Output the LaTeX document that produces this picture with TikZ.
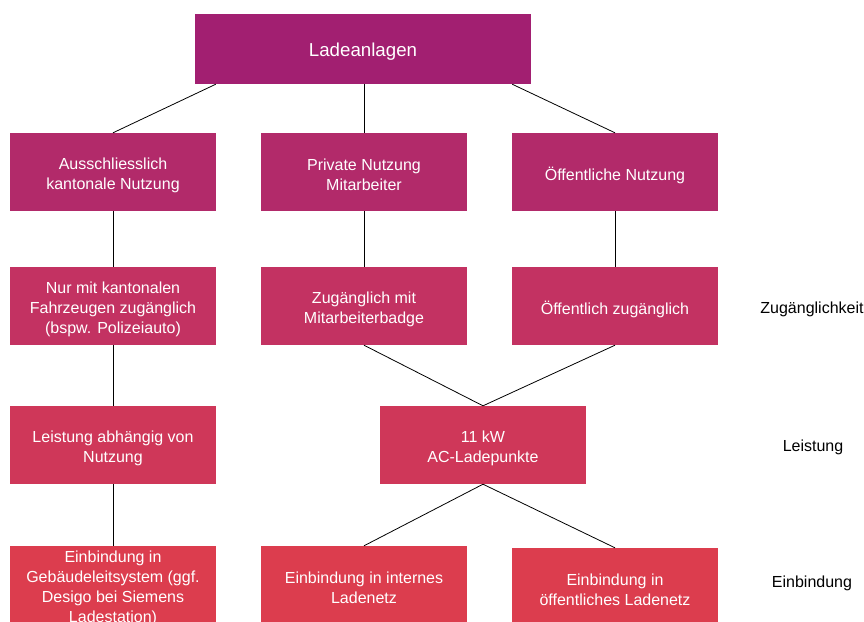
\documentclass[tikz,border=0pt]{standalone}
\usepackage{fontspec}
\setmainfont{Liberation Sans}
\definecolor{c0}{RGB}{162,31,113}
\definecolor{c1}{RGB}{178,42,106}
\definecolor{c2}{RGB}{195,50,98}
\definecolor{c3}{RGB}{207,55,89}
\definecolor{c4}{RGB}{220,61,78}
\tikzset{
  box/.style={rectangle, inner sep=0pt, minimum width=206pt, minimum height=78pt},
  boxtext/.style={inner sep=0pt, text=white, align=center, font=\fontsize{16pt}{20pt}\selectfont},
  rowlabel/.style={inner sep=0pt, text=black, font=\fontsize{16pt}{20pt}\selectfont},
  link/.style={draw=black, line width=0.8pt}
}
\begin{document}
\begin{tikzpicture}[x=1pt,y=-1pt]
\useasboundingbox (0,0) rectangle (864,621);
\clip (0,0) rectangle (864,621);
\fill[white] (0,0) rectangle (864,621);
\node[box, fill=c0, minimum width=336pt, minimum height=70pt] (T) at (363,49) {};
\node[box, fill=c1] (A1) at (113,172) {};
\node[box, fill=c1] (B1) at (364,172) {};
\node[box, fill=c1] (C1) at (615,172) {};
\node[box, fill=c2] (A2) at (113,306) {};
\node[box, fill=c2] (B2) at (364,306) {};
\node[box, fill=c2] (C2) at (615,306) {};
\node[box, fill=c3] (A3) at (113,445) {};
\node[box, fill=c3] (B3) at (483,445) {};
\node[box, fill=c4] (A4) at (113,585) {};
\node[box, fill=c4] (B4) at (364,585) {};
\node[box, fill=c4] (C4) at (615,587) {};
\node[boxtext, font=\fontsize{18.7pt}{22pt}\selectfont] (Tt) at ([yshift=-3pt]T.center) {Ladeanlagen};
\node[boxtext] (A1t) at ([yshift=-3pt]A1.center) {Ausschliesslich\\kantonale Nutzung};
\node[boxtext] (B1t) at ([yshift=-3pt]B1.center) {Private Nutzung\\Mitarbeiter};
\node[boxtext] (C1t) at ([yshift=-3pt]C1.center) {Öffentliche Nutzung};
\node[boxtext] (A2t) at ([yshift=-3pt]A2.center) {Nur mit kantonalen\\Fahrzeugen zugänglich\\(bspw. Polizeiauto)};
\node[boxtext] (B2t) at ([yshift=-3pt]B2.center) {Zugänglich mit\\Mitarbeiterbadge};
\node[boxtext] (C2t) at ([yshift=-3pt]C2.center) {Öffentlich zugänglich};
\node[boxtext] (A3t) at ([yshift=-3pt]A3.center) {Leistung abhängig von\\Nutzung};
\node[boxtext] (B3t) at ([yshift=-3pt]B3.center) {11 kW\\AC-Ladepunkte};
\node[boxtext] (A4t) at ([yshift=-3pt]A4.center) {Einbindung in\\Gebäudeleitsystem (ggf.\\Desigo bei Siemens\\Ladestation)};
\node[boxtext] (B4t) at ([yshift=-3pt]B4.center) {Einbindung in internes\\Ladenetz};
\node[boxtext] (C4t) at ([yshift=-3pt]C4.center) {Einbindung in\\öffentliches Ladenetz};
\node[rowlabel] (L1) at (812,309) {Zugänglichkeit};
\node[rowlabel] (L2) at (813,447) {Leistung};
\node[rowlabel] (L3) at (812,583) {Einbindung};
\draw[link] ([xshift=21pt]T.south west) -- (A1.north);
\draw[link] (T.south -| B1.north) -- (B1.north);
\draw[link] ([xshift=-19pt]T.south east) -- (C1.north);
\draw[link] (A1.south) -- (A2.north);
\draw[link] (B1.south) -- (B2.north);
\draw[link] (C1.south) -- (C2.north);
\draw[link] (A2.south) -- (A3.north);
\draw[link] (B2.south) -- (B3.north);
\draw[link] (C2.south) -- (B3.north);
\draw[link] (A3.south) -- (A4.north);
\draw[link] (B3.south) -- (B4.north);
\draw[link] (B3.south) -- (C4.north);
\end{tikzpicture}
\end{document}
